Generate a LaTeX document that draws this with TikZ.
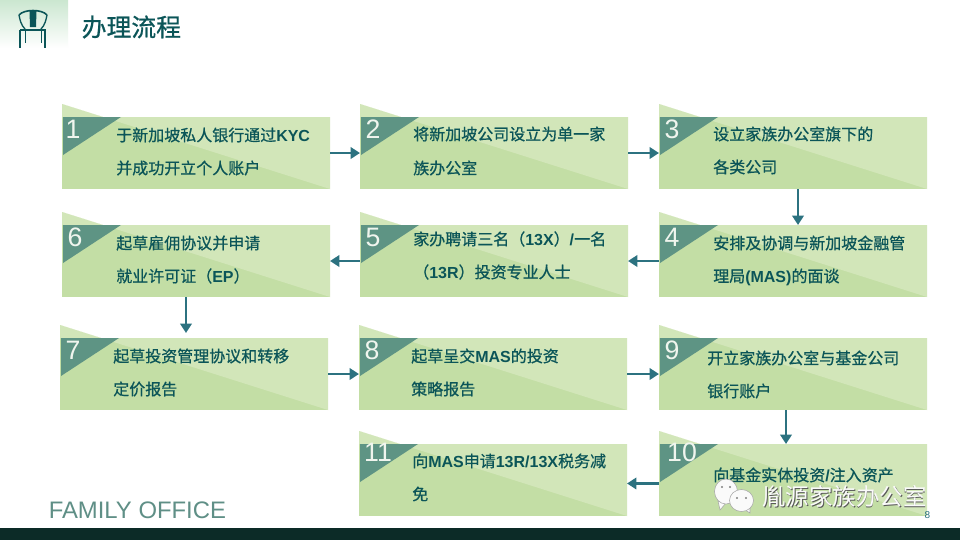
\documentclass[tikz,border=0pt]{standalone}
\usepackage{fontspec}
\setmainfont{Liberation Sans}
\newfontfamily\cjk{Noto Sans CJK SC}
\newfontfamily\cjkm[FakeBold=0.7]{Noto Sans CJK SC}
\newcommand{\lb}[1]{{\rmfamily\bfseries #1}}
\definecolor{boxdark}{HTML}{C3DEA5}
\definecolor{boxlight}{HTML}{D2E6B9}
\definecolor{tealtri}{HTML}{5E9484}
\definecolor{txtteal}{HTML}{0B5558}
\definecolor{arrowteal}{HTML}{2C7280}
\definecolor{barcol}{HTML}{0C2B27}
\definecolor{foteal}{HTML}{5F8F86}
\definecolor{numcol}{HTML}{F0F5EE}
\definecolor{hdrgreen}{HTML}{CBE7D0}
\usetikzlibrary{arrows.meta,calc}
\tikzset{
  x=0.75pt,y=-0.75pt,
  boxbase/.style={draw=none,fill=boxdark,minimum width=201pt,minimum height=54pt,inner sep=0pt,outer sep=0pt,anchor=north west},
  numlabel/.style={text=numcol,font=\fontsize{20}{20}\selectfont,inner sep=0pt},
  steptext/.style={text=txtteal,font=\cjkm\fontsize{12}{12}\selectfont,inner sep=0pt,anchor=west},
  flow/.style={draw=arrowteal,line width=2.2pt,-{Triangle[length=7pt,width=8.5pt]}},
}
% name, x, y, number, text x, line 1 y, line 1, line 2 node
\newcommand{\stepbox}[9]{%
  \node[boxbase] (#1) at (#2,#3) {};
  \fill[boxlight] (#2,#3) ++(0,-13) -- ++(268,85) -- ++(0,-72) -- ++(-227,0) -- cycle;
  \fill[boxlight] (#2,#3) ++(0,-13) -- ++(41,13) -- ++(-41,0) -- cycle;
  \fill[tealtri] (#2,#3) ++(1,0) -- ++(58,0) -- ++(-58,38) -- cycle;
  \node[numlabel] (#1n) at ($(#2,#3)+(#4)$) {#5};
  \node[steptext] (#1a) at (#6,#7) {#8};
  #9%
}
\begin{document}
\begin{tikzpicture}
\useasboundingbox (0,0) rectangle (960,540);
\fill[white] (0,0) rectangle (960,540);
% header
\node[inner sep=0pt,outer sep=0pt,anchor=north west,minimum width=51pt,minimum height=36pt,top color=hdrgreen,bottom color=white] (hdr) at (0,0) {};
\node[text=txtteal,font=\cjkm\fontsize{18.6}{18.6}\selectfont,inner sep=0pt,anchor=west] (title) at (81.5,27) {办理流程};
\begin{scope}[draw=txtteal,line width=1pt]
  \draw[line width=1.2pt] (19,15) .. controls (24,9) and (42,9) .. (47,15);
  \draw (19,15) .. controls (20,20) and (21,25) .. (25,29);
  \draw (47,15) .. controls (46,20) and (45,25) .. (41,29);
  \fill[txtteal] (29.5,11) -- (36.5,11) -- (36,27) -- (30,27) -- cycle;
  \draw[line width=1.4pt] (20,30) -- (46,30);
  \draw[line width=1.3pt] (20,30) -- (20,48);
  \draw[line width=1.3pt] (45,30) -- (45,48);
  \draw[line width=.6pt] (25,31) -- (25,43);
  \draw[line width=.6pt] (41,31) -- (41,43);
\end{scope}
% boxes
\stepbox{b1}{62}{117}{11,12}{1}{116}{135}{于新加坡私人银行通过\lb{KYC}}{\node[steptext] (b1b) at (116,168) {并成功开立个人账户};}
\stepbox{b2}{360}{117}{13,12}{2}{413}{134}{将新加坡公司设立为单一家}{\node[steptext] (b2b) at (413,168) {族办公室};}
\stepbox{b3}{659}{117}{13,12}{3}{713}{134}{设立家族办公室旗下的}{\node[steptext] (b3b) at (713,167) {各类公司};}
\stepbox{b4}{659}{225}{13,12}{4}{713}{243}{安排及协调与新加坡金融管}{\node[steptext] (b4b) at (713,277) {理局\lb{(MAS)}的面谈};}
\stepbox{b5}{360}{225}{13,12}{5}{413}{239}{家办聘请三名（\lb{13X}）\lb{/}一名}{\node[steptext] (b5b) at (413,272) {（\lb{13R}）投资专业人士};}
\stepbox{b6}{62}{225}{13,12}{6}{116}{243}{起草雇佣协议并申请}{\node[steptext] (b6b) at (116,276) {就业许可证（\lb{EP}）};}
\stepbox{b7}{60}{338}{13,12}{7}{113}{356}{起草投资管理协议和转移}{\node[steptext] (b7b) at (113,389) {定价报告};}
\stepbox{b8}{359}{338}{13,12}{8}{411}{356}{起草呈交\lb{MAS}的投资}{\node[steptext] (b8b) at (411,389) {策略报告};}
\stepbox{b9}{659}{338}{13,12}{9}{707}{358}{开立家族办公室与基金公司}{\node[steptext] (b9b) at (707,391) {银行账户};}
\stepbox{b10}{659}{444}{23,8}{10}{713}{475}{向基金实体投资\lb{/}注入资产}{}
\stepbox{b11}{359}{444}{19,8}{11}{412}{461}{向\lb{MAS}申请\lb{13R/13X}税务减}{\node[steptext] (b11b) at (412,494) {免};}
% connectors
\draw[flow] (b1.east) -- (b2.west);
\draw[flow] (b2.east) -- (b3.west);
\draw[flow] ([xshift=3.75pt]b3.south) -- ([xshift=3.75pt]b4.north);
\draw[flow] (b4.west) -- (b5.east);
\draw[flow] (b5.west) -- (b6.east);
\draw[flow] ([xshift=-7.5pt]b6.south) -- ([xshift=-6pt,yshift=3.75pt]b7.north);
\draw[flow] (b7.east) -- (b8.west);
\draw[flow] (b8.east) -- (b9.west);
\draw[flow] ([xshift=-5.25pt]b9.south) -- ([xshift=-5.25pt]b10.north);
\draw[flow] ([yshift=-2.6pt]b10.west) -- ([yshift=-2.6pt]b11.east);
% footer
\fill[barcol] (0,528) rectangle (960,540);
\node[text=foteal,font=\fontsize{17.9}{17.9}\selectfont,inner sep=0pt,anchor=west] (fo) at (48.5,510) {FAMILY OFFICE};
\node[text=arrowteal,font=\fontsize{7.5}{7.5}\selectfont,inner sep=0pt] (pg) at (927.5,515) {8};
% watermark
\begin{scope}[draw=gray!70,line width=.4pt,fill=white!96!gray]
  \filldraw (718,501) -- (720,510) -- (726,503) -- cycle;
  \filldraw (726,491.5) ellipse [x radius=11.5,y radius=12.5];
  \filldraw (750,507) -- (750,513) -- (745,510) -- cycle;
  \filldraw (741.5,500.5) ellipse [x radius=12,y radius=11];
  \fill[gray] (722,487) circle (1.2) (730,487) circle (1.2) (737,498) circle (1.2) (746,498) circle (1.2);
\end{scope}
\node[text=gray!70!black,font=\cjk\fontsize{17.6}{17.6}\selectfont,inner sep=0pt,anchor=west] (wms) at (762.8,497.8) {胤源家族办公室};
\node[text=white!96!gray,font=\cjk\fontsize{17.6}{17.6}\selectfont,inner sep=0pt,anchor=west] (wm) at (762,497) {胤源家族办公室};
\end{tikzpicture}
\end{document}
